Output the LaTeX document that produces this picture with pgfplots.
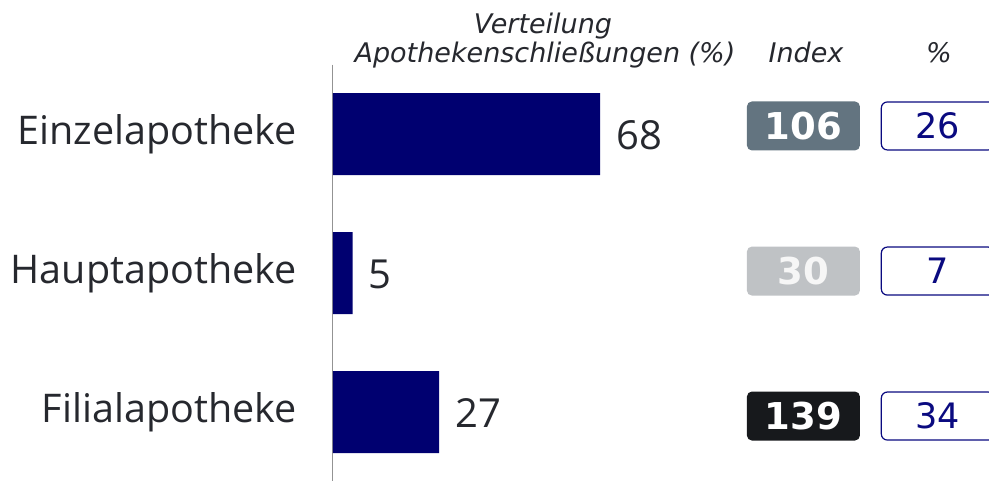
\documentclass[border=0pt]{standalone}
\usepackage{pgfplots}
\pgfplotsset{compat=1.18}
\usepackage{fontspec}
\setmainfont{DejaVu Sans}
\newfontfamily\opensans{Open Sans}
\definecolor{barnavy}{RGB}{0,0,112}
\definecolor{txt}{RGB}{38,40,46}
\definecolor{idxA}{RGB}{99,116,128}
\definecolor{idxB}{RGB}{191,194,197}
\definecolor{idxC}{RGB}{23,25,28}
\definecolor{pctnavy}{RGB}{10,10,128}
\begin{document}
\begin{tikzpicture}
\path[use as bounding box] (0,0) rectangle (989pt,-480pt);
\clip (0,0) rectangle (989pt,-480pt);
\begin{axis}[
  at={(333pt,-64.5pt)}, anchor=north west,
  scale only axis, width=393pt, height=417pt,
  xmin=0, xmax=100, ymin=-0.5, ymax=2.5, y dir=reverse,
  axis x line=none, axis y line*=left,
  y axis line style={draw=gray!85, line width=1pt, -},
  ytick={0,1,2}, yticklabels={Einzelapotheke,Hauptapotheke,Filialapotheke},
  major tick length=0pt,
  yticklabel style={font=\opensans\fontsize{39.5}{42}\selectfont, text=txt, inner sep=0pt, xshift=-36pt},
  clip=false,
]
\addplot[xbar, bar width=82pt, fill=barnavy, draw=none,
  point meta=explicit symbolic, nodes near coords,
  nodes near coords style={font=\opensans\fontsize{40}{42}\selectfont, text=txt, xshift=16pt, yshift=-1pt, inner sep=0pt, anchor=west}]
  coordinates {(68,0) [68] (5,1) [5] (27,2) [27]};
% Index boxes
\addplot[draw=none, point meta=explicit symbolic, nodes near coords,
  nodes near coords style={anchor=center, fill=idxA, rounded corners=5pt, minimum width=113pt, minimum height=49pt, inner sep=0pt, text=white, font=\bfseries\fontsize{37}{37}\selectfont}]
  coordinates {(119.7,-0.058) [106]};
\addplot[draw=none, point meta=explicit symbolic, nodes near coords,
  nodes near coords style={anchor=center, fill=idxB, rounded corners=5pt, minimum width=113pt, minimum height=49pt, inner sep=0pt, text=white!93!gray, font=\bfseries\fontsize{37}{37}\selectfont}]
  coordinates {(119.7,0.986) [30]};
\addplot[draw=none, point meta=explicit symbolic, nodes near coords,
  nodes near coords style={anchor=center, fill=idxC, rounded corners=5pt, minimum width=113pt, minimum height=49pt, inner sep=0pt, text=white, font=\bfseries\fontsize{37}{37}\selectfont}]
  coordinates {(119.7,2.029) [139]};
% Percent boxes
\addplot[draw=none, point meta=explicit symbolic, nodes near coords,
  nodes near coords style={anchor=center, fill=white, draw=pctnavy, line width=1.2pt, rounded corners=6pt, minimum width=113pt, minimum height=48pt, inner sep=0pt, text=pctnavy, font=\fontsize{35}{35}\selectfont}]
  coordinates {(153.9,-0.058) [26] (153.9,0.986) [7] (153.9,2.029) [34]};
\end{axis}
\node[anchor=base, font=\itshape\fontsize{27}{30}\selectfont, text=txt] at (543pt,-33pt) {Verteilung};
\node[anchor=base, font=\itshape\fontsize{27}{30}\selectfont, text=txt] at (545pt,-62pt) {Apothekenschließungen (\%)};
\node[anchor=base, font=\itshape\fontsize{27}{30}\selectfont, text=txt] at (806pt,-62pt) {Index};
\node[anchor=base, font=\itshape\fontsize{27}{30}\selectfont, text=txt] at (939pt,-62pt) {\%};
\end{tikzpicture}
\end{document}
